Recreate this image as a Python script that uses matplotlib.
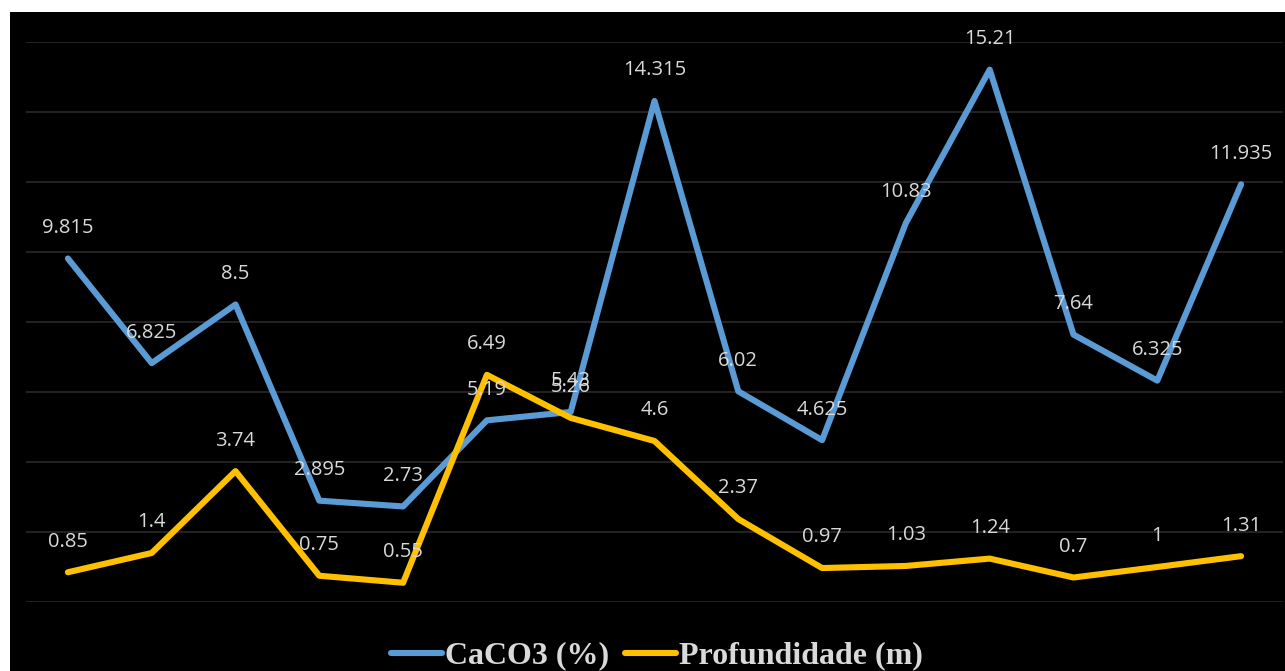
import numpy as np
import matplotlib.pyplot as plt
from matplotlib.patches import Rectangle

# data
caco3 = [9.815, 6.825, 8.5, 2.895, 2.73, 5.19, 5.43, 14.315, 6.02, 4.625,
         10.83, 15.21, 7.64, 6.325, 11.935]
profundidade = [0.85, 1.4, 3.74, 0.75, 0.55, 6.49, 5.26, 4.6, 2.37, 0.97,
                1.03, 1.24, 0.7, 1, 1.31]
labels = ['CaCO3 (%)', 'Profundidade (m)']

W, H = 1285, 671
fig = plt.figure(figsize=(W / 100, H / 100), dpi=100, facecolor='white')
# black chart area with a thin white margin top/left
fig.patches.append(Rectangle((10 / W, 0), 1, 1 - 12 / H, transform=fig.transFigure,
                             facecolor='black', edgecolor='none', zorder=-5))

ax = fig.add_axes([26 / W, (H - 602) / H, (1283 - 26) / W, (602 - 42) / H])
ax.set_zorder(2)
ax.set_facecolor('none')
x = np.arange(len(caco3))

for vals, color, lab in [(caco3, '#5B9BD5', labels[0]),
                         (profundidade, '#FFC000', labels[1])]:
    ax.plot(x, vals, color=color, lw=4.4, solid_joinstyle='round',
            solid_capstyle='round', label=lab, zorder=3)
    for xi, v in zip(x, vals):
        ax.annotate(f'{v:g}', (xi, v), xytext=(0, 22), textcoords='offset points',
                    ha='center', va='center', color='#d9d9d9', fontsize=14.5,
                    family='Open Sans', zorder=4)

ax.set_xlim(-0.5, len(caco3) - 0.5)
ax.set_ylim(0, 16)
ax.set_yticks(np.arange(0, 17, 2))
ax.set_xticks([])
ax.tick_params(left=False, labelleft=False)
ax.grid(axis='y', color='#262626', lw=1.3)
ax.set_axisbelow(True)
for s in ax.spines.values():
    s.set_visible(False)

leg = fig.legend(loc='center', bbox_to_anchor=(657 / W, 1 - 656 / H), ncol=2,
                 frameon=False, handlelength=1.6, handletextpad=0.1,
                 columnspacing=0.5, borderpad=0.2,
                 prop={'family': 'Liberation Serif', 'weight': 'bold', 'size': 23})
leg.set_zorder(5)
for t in leg.get_texts():
    t.set_color('#d9d9d9')

fig.savefig('out.png', dpi=100, facecolor='white')
